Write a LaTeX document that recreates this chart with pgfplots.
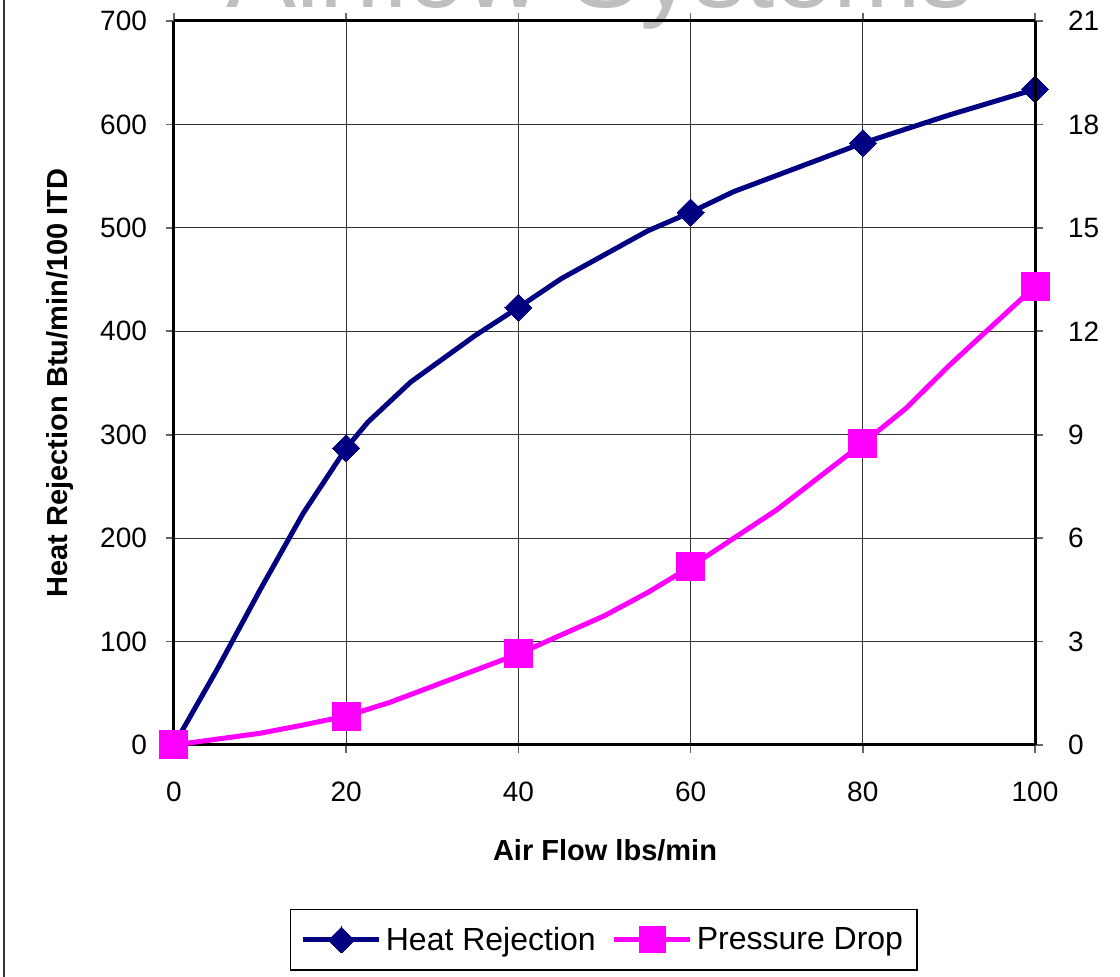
\documentclass[border=0pt]{standalone}
\usepackage{fontspec}
\setmainfont{Liberation Sans}
\usepackage{pgfplots}
\pgfplotsset{compat=1.18}
\definecolor{navyc}{RGB}{0,0,128}
\definecolor{magc}{RGB}{255,0,255}
\begin{document}
\begin{tikzpicture}
\useasboundingbox (-87pt,-116pt) rectangle (473pt,372.5pt);
\clip (-87pt,-116pt) rectangle (473pt,372.5pt);
\draw[line width=1pt, black!80] (-85pt,-116pt) -- (-85pt,372.5pt);
\node[anchor=base, text=black!25, inner sep=0pt, font=\fontsize{52.5}{60}\selectfont] at (213pt,368.5pt) {Airflow Systems};
\pgfplotsset{
  common/.style={
    width=430.5pt, height=362pt, scale only axis,
    at={(0pt,0pt)}, anchor=south west,
    xmin=0, xmax=100, clip=false,
    /pgf/number format/assume math mode=true,
    tick align=outside, major tick length=4pt,
    tick style={line width=0.8pt, black!60},
    axis line style={line width=1.5pt, black},
    ticklabel style={font=\fontsize{14}{16}\selectfont},
  }
}
\begin{axis}[common,
  ymin=0, ymax=700,
  axis y line*=left, axis x line*=box,
  xtick={0,20,...,100}, ytick={0,100,...,700},
  xticklabel style={yshift=-11pt},
  yticklabel style={xshift=-6pt},
  grid=major, grid style={line width=0.6pt, black!80},
  xlabel={\textbf{Air Flow lbs/min}},
  ylabel={\textbf{Heat Rejection Btu/min/100 ITD}},
  label style={font=\fontsize{14.5}{16}\selectfont},
  xlabel style={at={(axis description cs:0.5006,-0.145)}, anchor=center},
  ylabel style={at={(axis description cs:-0.1324,0.5)}, anchor=center, rotate=0},
]
\addplot[navyc, line width=2.5pt, no marks] coordinates {
(0,0) (5,73) (10,150) (15,224) (20,287) (22.5,312) (27.5,351) (35,396) (40,423) (45,451) (50,474) (55,497) (60,515) (65,535) (80,582) (90,609) (100,634)
};
\addplot[only marks, mark=square*, mark size=4.8pt, mark options={rotate=45, line width=0pt}, navyc] coordinates {
(0,0) (20,287) (40,423) (60,515) (80,582) (100,634)
};
\end{axis}
\begin{axis}[common,
  ymin=0, ymax=21,
  axis y line*=right, axis x line=none,
  ytick={0,3,...,21},
  yticklabel style={xshift=9pt},
  legend columns=2,
  legend style={at={(axis description cs:0.4994,-0.2693)}, anchor=center,
    draw=black, line width=0.6pt, font=\fontsize{16}{18}\selectfont,
    /tikz/every even column/.append style={column sep=6pt},
    inner xsep=5pt, inner ysep=6.5pt},
  legend image code/.code={
    \draw[#1, mark repeat=2, mark phase=2] plot coordinates {(0pt,0pt) (19pt,0pt) (38pt,0pt)};
  },
]
\addlegendimage{navyc, line width=2.5pt, mark=square*, mark size=4.6pt, mark options={rotate=45, line width=0pt}}
\addlegendentry{Heat Rejection}
\addplot[magc, line width=2.5pt, no marks, forget plot] coordinates {
(0,0) (10,0.34) (15,0.58) (20,0.84) (25,1.23) (40,2.64) (50,3.75) (55,4.42) (60,5.17) (70,6.82) (80,8.75) (85,9.76) (90,11.0) (100,13.3)
};
\addlegendimage{magc, line width=2.5pt, mark=square*, mark size=6.5pt, mark options={line width=0pt}}
\addlegendentry{Pressure Drop}
\addplot[only marks, mark=square*, mark size=7pt, mark options={line width=0pt}, magc, forget plot] coordinates {
(0,0) (20,0.84) (40,2.64) (60,5.17) (80,8.75) (100,13.3)
};
\end{axis}
\end{tikzpicture}
\end{document}
